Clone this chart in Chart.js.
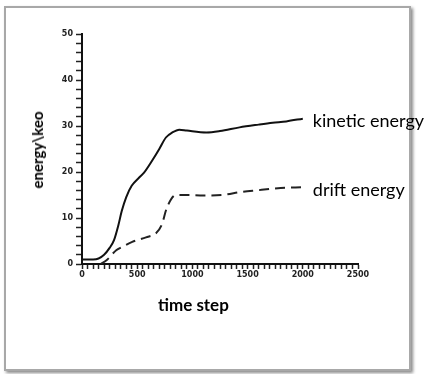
<!DOCTYPE html>
<html><head><meta charset="utf-8">
<script src="https://cdn.jsdelivr.net/npm/chart.js@4"></script>
<style>
html,body{margin:0;padding:0;background:#fff;}
#wrap{position:relative;width:427px;height:374px;overflow:hidden;}
#frame{position:absolute;left:4px;top:6px;width:403px;height:361px;border:2px solid #a8a8a8;box-shadow:2px 2px 3px #8a8a8a;background:#fff;}
canvas{position:absolute;left:0;top:0;}
.t{position:absolute;font-family:Lato,"Open Sans",sans-serif;font-weight:bold;color:#000;white-space:nowrap;}
#xt{left:158px;top:294px;font-size:17px;}
#yt{left:37px;top:150px;font-size:15px;transform:translate(-50%,-50%) rotate(-90deg);}
</style></head>
<body><div id="wrap"><div id="frame"></div><canvas id="c" width="427" height="374"></canvas>
<div class="t" id="xt">time step</div><div class="t" id="yt">energy\keo</div></div>
<script>
const kineticT = [0,100,150,200,250,290,330,360,400,450,518,560,636,700,760,818,882,950,1127,1250,1427,1600,1727,1850,2000];
const kineticE = [1,1,1.2,2,3.5,5.2,8.5,11.5,14.5,17,18.8,19.8,22.5,25,27.5,28.6,29.2,29,28.6,28.9,29.7,30.3,30.7,31,31.6];
const driftT = [170,230,310,364,455,580,670,720,770,850,950,1100,1300,1427,1580,1800,2000];
const driftE = [0,1,3,3.7,4.8,5.8,6.7,8.4,12.3,15,15,14.9,15.1,15.6,16,16.5,16.7];
const xTicks = [0,500,1000,1500,2000,2500];
const yTicks = [0,10,20,30,40,50];
const seriesLabels = ['kinetic energy','drift energy'];

const toXY = (t,v)=>t.map((x,i)=>({x:x,y:v[i]}));

const endLabels = {
  id:'endLabels',
  afterDatasetsDraw(chart){
    const ctx = chart.ctx;
    ctx.save();
    ctx.font = '18px Lato, "Open Sans", sans-serif';
    ctx.fillStyle = '#000';
    ctx.textBaseline = 'middle';
    chart.data.datasets.forEach((ds,i)=>{
      const meta = chart.getDatasetMeta(i);
      const p = meta.data[meta.data.length-1];
      ctx.fillText(seriesLabels[i], p.x+10, p.y+3);
    });
    ctx.restore();
  }
};

new Chart(document.getElementById('c'),{
  type:'line',
  data:{datasets:[
    {data:toXY(kineticT,kineticE),borderColor:'#111',borderWidth:2,pointRadius:0,cubicInterpolationMode:'monotone',fill:false},
    {data:toXY(driftT,driftE),borderColor:'#222',borderWidth:2,borderDash:[10,6],pointRadius:0,cubicInterpolationMode:'monotone',fill:false}
  ]},
  options:{
    responsive:false,animation:false,
    layout:{padding:{left:0,top:34,right:69,bottom:0}},
    plugins:{legend:{display:false},tooltip:{enabled:false}},
    scales:{
      x:{type:'linear',min:0,max:2500,
        afterFit(s){s.height=110;},
        border:{display:true,color:'#111',width:2},
        grid:{drawOnChartArea:false,tickLength:5,tickColor:'#222',tickWidth:1.5},
        ticks:{stepSize:50,autoSkip:false,maxRotation:0,padding:1,color:'#222',font:{size:8,weight:'bold',family:'DejaVu Sans'},
          callback:v=>xTicks.includes(v)?String(v):''}
      },
      y:{type:'linear',min:0,max:50,
        afterFit(s){s.width=82;},
        border:{display:true,color:'#111',width:2},
        grid:{drawOnChartArea:false,tickLength:6,tickColor:'#222',tickWidth:1.5},
        ticks:{stepSize:2,autoSkip:false,padding:3,color:'#222',font:{size:8,weight:'bold',family:'DejaVu Sans'},
          callback:v=>yTicks.includes(v)?String(v):''}
      }
    }
  },
  plugins:[endLabels]
});
</script></body></html>
